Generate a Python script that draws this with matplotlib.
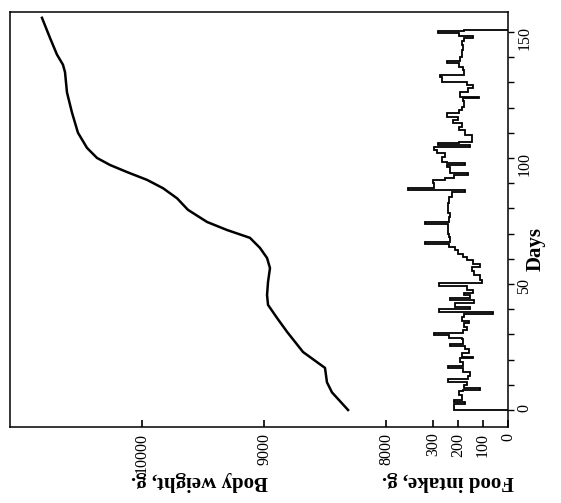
import numpy as np
import matplotlib.pyplot as plt

wt_days = [0, 7, 11, 16.7, 19, 23, 31, 36.5, 41.7, 45.6, 50.8, 56.3, 60.3,
           64.3, 68.3, 71.4, 74.6, 79.4, 84, 88, 91.3, 94.4, 97.2, 100, 104,
           110, 118, 126, 134, 137, 141, 147.6, 155.6]
wt_grams = [8311, 8443, 8484, 8500, 8566, 8680, 8811, 8893, 8967, 8975, 8967,
            8951, 8975, 9033, 9115, 9303, 9467, 9623, 9713, 9828, 9959, 10123,
            10262, 10369, 10451, 10525, 10574, 10615, 10631, 10648, 10697,
            10754, 10820]

# Food intake (g): day each step starts and its value
food_days = [0, 2.5, 3.2, 4, 6, 7.5, 8, 8.7, 10, 11.3, 12.3, 13.5, 15, 16.5,
             17.5, 19, 20.5, 21.2, 22.6, 24, 25.2, 26.2, 28, 28.7, 29.8, 30.6,
             31.7, 33, 34.4, 35.5, 37, 38.2, 39, 40, 41, 42.3, 43.7, 44.5,
             45.5, 46.3, 47.5, 49.2, 50.2, 51.5, 53.6, 55, 56.9, 58, 59.5,
             60.8, 62, 63.5, 64.5, 65.8, 66.5, 68.8, 70, 73.6, 74.4, 76.7, 78,
             82, 84.6, 86.6, 87.2, 88.2, 89.9, 91.3, 91.9, 93.3, 93.9, 96.6,
             97.2, 97.8, 98.5, 100.5, 101.9, 103.2, 104.5, 105.2, 105.8, 106.5,
             109.1, 111.1, 112.4, 113.8, 115.1, 116.4, 117.7, 119, 120.4,
             122.4, 123.7, 124.3, 126.3, 127.6, 129, 130.3, 132.3, 132.9,
             134.9, 136.2, 137.6, 138.3, 140.2, 142.9, 144.8, 146.2, 147.5,
             148.4, 149.5, 150.5]
food_grams = [215, 170, 215, 185, 195, 180, 110, 175, 165, 240, 160, 150, 180,
              240, 180, 190, 140, 185, 155, 170, 230, 180, 185, 235, 295, 180,
              165, 175, 155, 185, 175, 60, 275, 150, 210, 135, 230, 150, 175,
              140, 165, 275, 105, 110, 135, 145, 110, 140, 165, 180, 200, 210,
              235, 330, 230, 235, 240, 330, 235, 230, 240, 235, 225, 170, 400,
              295, 300, 250, 215, 160, 230, 245, 170, 245, 265, 250, 285, 295,
              150, 280, 195, 145, 170, 195, 185, 220, 200, 245, 195, 185, 175,
              180, 115, 190, 160, 140, 165, 265, 270, 175, 180, 195, 245, 190,
              185, 180, 185, 175, 140, 195, 280, 175]
food_end = 150.8

weight_ticks = [8000, 9000, 10000]
food_ticks = [0, 100, 200, 300]

plt.rcParams['font.family'] = ['Liberation Serif', 'DejaVu Serif']

fig = plt.figure(figsize=(5.61, 5.03), dpi=100)
ax = fig.add_axes([10 / 561, 1 - 427 / 503, 498 / 561, 415 / 503])

# food intake as a step trace that starts and ends on zero
fd = np.array(food_days + [food_end])
fv = np.array(food_grams)
xs = np.concatenate([[0], np.repeat(fv, 2), [0]])
ys = np.concatenate([[fd[0]], np.column_stack([fd[:-1], fd[1:]]).ravel(), [fd[-1]]])
ax.plot(xs, ys, color='black', lw=1.3, solid_joinstyle='miter')

ax.set_xlim(1992, 0)
ax.set_ylim(-6.75, 157.9)
ax.set_xticks(food_ticks)
ax.set_xticklabels([str(t) for t in food_ticks])

ax.yaxis.tick_right()
ax.set_yticks([0, 50, 100, 150])
ax.set_yticks(np.arange(0, 151, 10), minor=True)
ax.tick_params(axis='y', which='both', direction='out', length=4, width=1,
               labelsize=11.5, labelrotation=90, pad=2)
ax.tick_params(axis='x', direction='in', length=5, width=1.2,
               labelsize=11.5, labelrotation=90, pad=4)
for s in ax.spines.values():
    s.set_linewidth(1.1)

# body weight on its own scale sharing the same bottom line
ax2 = ax.twiny()
ax2.plot(wt_grams, wt_days, color='black', lw=1.8)
ax2.set_xlim(11082, 7000)
ax2.set_xticks(weight_ticks)
ax2.set_xticklabels([str(t) for t in weight_ticks])
ax2.xaxis.set_ticks_position('bottom')
ax2.xaxis.set_label_position('bottom')
ax2.tick_params(axis='x', direction='in', length=5, width=1.2,
                labelsize=11.5, labelrotation=90, pad=4)
for s in ax2.spines.values():
    s.set_visible(False)

fig.text(200 / 561, 1 - 481 / 503, 'Body weight, g.', rotation=180,
         ha='center', va='center', fontsize=15, fontweight='bold')
fig.text(448 / 561, 1 - 481 / 503, 'Food intake, g.', rotation=180,
         ha='center', va='center', fontsize=15, fontweight='bold')
fig.text(536 / 561, 1 - 249 / 503, 'Days', rotation=90,
         ha='center', va='center', fontsize=15, fontweight='bold')

fig.savefig('out.png', dpi=100)
